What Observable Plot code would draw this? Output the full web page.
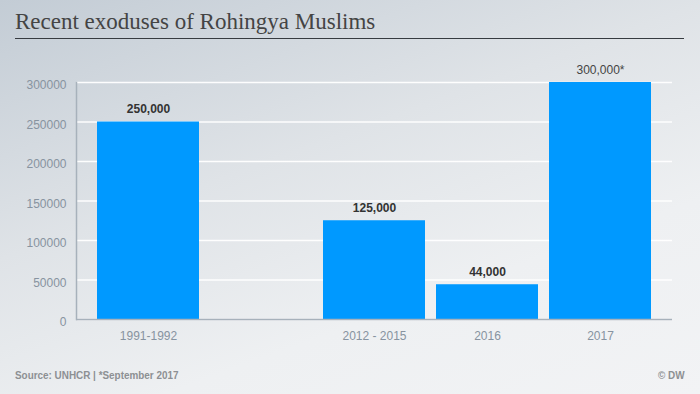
<!DOCTYPE html>
<html>
<head>
<meta charset="utf-8">
<script src="https://cdn.jsdelivr.net/npm/d3@7"></script>
<script src="https://cdn.jsdelivr.net/npm/@observablehq/plot@0.6"></script>
<style>
  html, body { margin: 0; padding: 0; }
  #wrap {
    position: relative; width: 700px; height: 394px; overflow: hidden;
    background: linear-gradient(160deg, #c3ccd5 0%, #dfe3e7 40%, #eef0f2 70%, #f2f3f5 100%);
  }
  #title {
    position: absolute; left: 15px; top: 9px;
    font-family: "Liberation Serif", "DejaVu Serif", serif; font-size: 23px; line-height: 26px;
    color: #444; white-space: nowrap;
  }
  #rule { position: absolute; left: 15px; top: 38px; width: 669px; height: 0; border-top: 1.5px solid #363b40; }
  #chart { position: absolute; left: 0; top: 60px; }
  .foot {
    position: absolute; top: 369px;
    font-family: "Liberation Sans Narrow", "Arial Narrow", "Liberation Sans", Arial, sans-serif;
    font-weight: bold; font-size: 11px; line-height: 13px; color: #8d9093; white-space: nowrap;
  }
  #source { left: 15px; transform: scaleX(0.9); transform-origin: left center; }
  #credit { right: 16px; transform: scaleX(0.9); transform-origin: right center; }
</style>
</head>
<body>
<div id="wrap">
  <div id="title">Recent exoduses of Rohingya Muslims</div>
  <div id="rule"></div>
  <div id="chart"></div>
  <div class="foot" id="source">Source: UNHCR | *September 2017</div>
  <div class="foot" id="credit">© DW</div>
</div>
<script>
const categories = ["1991-1992", " ", "2012 - 2015", "2016", "2017"];
const barCategories = ["1991-1992", "2012 - 2015", "2016", "2017"];
const values = [250000, 125000, 44000, 300000];
const valueLabels = ["250,000", "125,000", "44,000", "300,000*"];
const yTicks = [0, 50000, 100000, 150000, 200000, 250000, 300000];

const data = barCategories.map((c, i) => ({cat: c, value: values[i], label: valueLabels[i]}));

const chart = Plot.plot({
  width: 700, height: 300,
  marginLeft: 76, marginRight: 28, marginTop: 22, marginBottom: 41,
  style: {background: "transparent", fontFamily: "'Liberation Sans', Arial, sans-serif", fontSize: "12px"},
  x: {domain: categories, paddingInner: 0.1, paddingOuter: 0.187, label: null},
  y: {domain: [0, 300000], label: null},
  marks: [
    Plot.gridY(yTicks, {stroke: "#ffffff", strokeOpacity: 0.95, strokeWidth: 1.5}),
    Plot.barY(data, {x: "cat", y: "value", fill: "#0099ff"}),
    Plot.ruleY([0], {stroke: "#a7b1bb", strokeWidth: 1.5}),
    Plot.frame({anchor: "left", stroke: "#a7b1bb", strokeWidth: 1.5}),
    Plot.axisY(yTicks, {tickSize: 0, tickPadding: 10, tickFormat: "d", fill: "#8793a0", fontSize: 12, dy: 3, label: null}),
    Plot.axisX({tickSize: 0, tickPadding: 12, fill: "#8793a0", fontSize: 12, label: null}),
    Plot.text(data, {filter: d => !d.label.endsWith("*"), x: "cat", y: "value", text: "label", dy: -13, fontWeight: "bold", fill: "#333", fontSize: 12}),
    Plot.text(data, {filter: d => d.label.endsWith("*"), x: "cat", y: "value", text: "label", dy: -12, fill: "#444", fontSize: 12})
  ]
});
document.getElementById("chart").appendChild(chart);
</script>
</body>
</html>
